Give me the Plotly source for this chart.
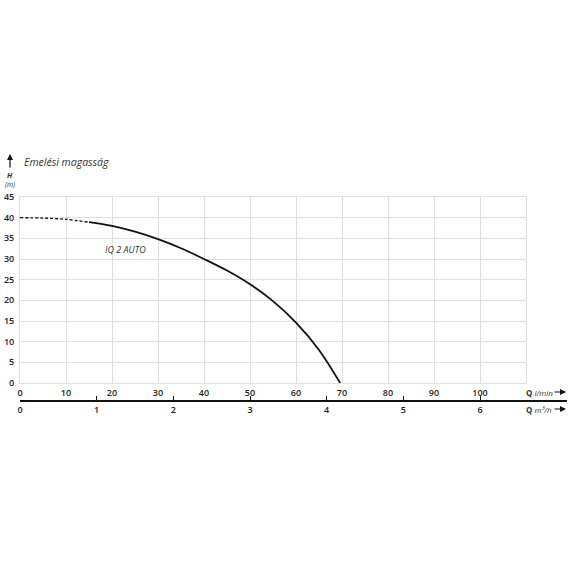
import plotly.graph_objects as go

# ---- data ----
q_dash = [0, 5, 10, 15]
h_dash = [40.0, 39.9, 39.6, 38.9]
q_solid = [15, 20, 25, 30, 35, 40, 45, 50, 55, 60, 65, 69.6]
h_solid = [38.9, 38.0, 36.6, 34.8, 32.6, 30.0, 27.2, 23.9, 19.8, 14.6, 8.0, 0.0]

x_ticks_lmin = [0, 10, 20, 30, 40, 50, 60, 70, 80, 90, 100]
x_ticks_m3h = [0, 1, 2, 3, 4, 5, 6]
y_ticks = [0, 5, 10, 15, 20, 25, 30, 35, 40, 45]
curve_name = "IQ 2 AUTO"

# ---- layout geometry (pixels) ----
W, H = 570, 570
ML, MR, MT, MB = 18, 3, 197, 170
PW = W - ML - MR          # paper width
PH = H - MT - MB          # paper height
X0, X1 = 20, 526          # main plot x pixel edges
Y0 = 383                  # y=0 pixel
LMIN_PER_M3H = 1000 / 60


def px(xp):
    return (xp - ML) / PW


def py(yp):
    return (H - MB - yp) / PH


fig = go.Figure()
fig.add_trace(go.Scatter(x=q_dash, y=h_dash, mode="lines", xaxis="x", yaxis="y",
                         line=dict(color="#111", width=1.3, dash="3px,2px", shape="spline"),
                         hoverinfo="skip", showlegend=False))
fig.add_trace(go.Scatter(x=q_solid, y=h_solid, mode="lines", xaxis="x", yaxis="y",
                         line=dict(color="#111", width=1.8, shape="spline", smoothing=1.0),
                         hoverinfo="skip", showlegend=False))
# invisible trace to carry the m3/h axis (own thin subplot at bottom)
fig.add_trace(go.Scatter(x=[0], y=[0], xaxis="x2", yaxis="y2", mode="markers",
                         marker=dict(opacity=0), hoverinfo="skip", showlegend=False))

tickfont = dict(family="Open Sans, DejaVu Sans, sans-serif", size=9, color="#222", weight=600)
grid = "#dedede"

x2_max = (W - MR - X0) / ((X1 - X0) / 110) / LMIN_PER_M3H

fig.update_layout(
    width=W, height=H,
    margin=dict(l=ML, r=MR, t=MT, b=MB, autoexpand=False),
    paper_bgcolor="white", plot_bgcolor="white",
    xaxis=dict(domain=[px(X0), px(X1)], range=[0, 110], tickvals=x_ticks_lmin, anchor="y",
               showgrid=True, gridcolor=grid, gridwidth=1, zeroline=False,
               showline=True, linecolor=grid, linewidth=1, mirror=True, automargin=False,
               ticks="", tickfont=tickfont, ticklabelstandoff=1, fixedrange=True),
    yaxis=dict(domain=[py(Y0), 1], range=[0, 45], tickvals=y_ticks, anchor="x",
               showgrid=True, gridcolor=grid, gridwidth=1, zeroline=False,
               showline=True, linecolor=grid, linewidth=1, mirror=True, automargin=False,
               ticks="", tickfont=tickfont, ticklabelstandoff=3, fixedrange=True),
    xaxis2=dict(domain=[px(X0), 1], range=[0, x2_max], tickvals=x_ticks_m3h, anchor="y2",
                showgrid=False, zeroline=False, showline=True, linecolor="#111", automargin=False,
                linewidth=1.5, ticks="inside", ticklen=4, tickcolor="#111", tickwidth=1,
                tickfont=tickfont, ticklabelstandoff=1, fixedrange=True),
    yaxis2=dict(domain=[0, 0.005], range=[0, 1], anchor="x2", visible=False, fixedrange=True),
)

ann_font = dict(family="Open Sans, DejaVu Sans, sans-serif", color="#333")

annotations = [
    dict(text="<i>Emelési magasság</i>", x=px(22), y=py(162), xref="paper", yref="paper",
         xanchor="left", yanchor="middle", showarrow=False, font=dict(size=10.5, **ann_font)),
    dict(text="<b><i>H</i></b>", x=px(10), y=py(175), xref="paper", yref="paper",
         xanchor="center", yanchor="middle", showarrow=False, font=dict(size=7.5, **ann_font)),
    dict(text="<i>(m)</i>", x=px(10), y=py(184), xref="paper", yref="paper",
         xanchor="center", yanchor="middle", showarrow=False, font=dict(size=7, **ann_font)),
    dict(text="", x=px(10), y=py(154), xref="paper", yref="paper", showarrow=True,
         ax=0, ay=15, arrowhead=2, arrowsize=1, arrowwidth=1.2, arrowcolor="#111"),
    dict(text="<b>Q</b> <i>l/min</i>", x=px(524), y=py(392), xref="paper", yref="paper",
         xanchor="left", yanchor="middle", showarrow=False, font=dict(size=8, **ann_font)),
    dict(text="", x=px(566), y=py(392), xref="paper", yref="paper", showarrow=True,
         ax=-13, ay=0, arrowhead=2, arrowsize=1, arrowwidth=1.2, arrowcolor="#111"),
    dict(text="<b>Q</b> <i>m³/h</i>", x=px(524), y=py(409), xref="paper", yref="paper",
         xanchor="left", yanchor="middle", showarrow=False, font=dict(size=8, **ann_font)),
    dict(text="", x=px(566), y=py(409), xref="paper", yref="paper", showarrow=True,
         ax=-13, ay=0, arrowhead=2, arrowsize=1, arrowwidth=1.2, arrowcolor="#111"),
    dict(text="<i>" + curve_name + "</i>", x=23, y=32.4, xref="x", yref="y",
         xanchor="center", yanchor="middle", showarrow=False, font=dict(size=9, **ann_font)),
]
fig.update_layout(annotations=annotations)

fig.write_html("out.html", config={"displayModeBar": False, "staticPlot": True},
               post_script="document.body.style.margin='0';document.body.style.padding='0';")
